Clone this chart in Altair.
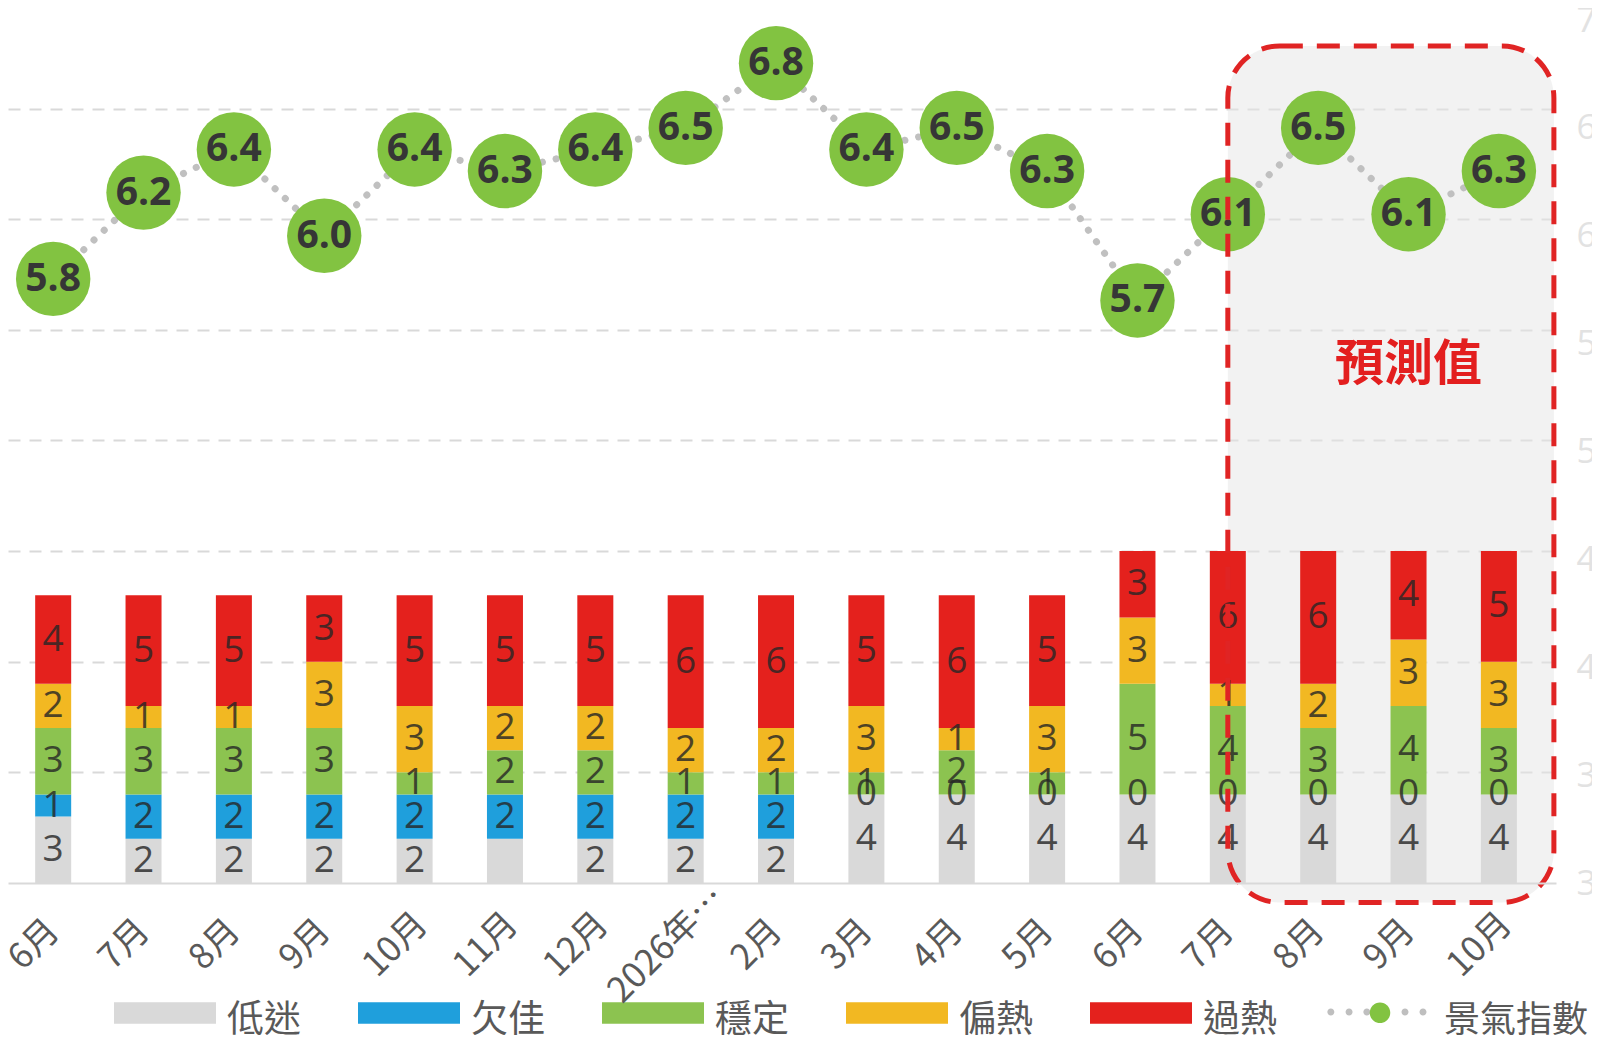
import altair as alt
import pandas as pd

# ---------------- data ----------------
month_keys = ["2025-06", "2025-07", "2025-08", "2025-09", "2025-10", "2025-11",
              "2025-12", "2026-01", "2026-02", "2026-03", "2026-04", "2026-05",
              "2026-06", "2026-07", "2026-08", "2026-09", "2026-10"]
month_labels = ["6月", "7月", "8月", "9月", "10月", "11月", "12月", "2026年1月",
                "2月", "3月", "4月", "5月", "6月", "7月", "8月", "9月", "10月"]

series_names = ["低迷", "欠佳", "穩定", "偏熱", "過熱"]
series_colors = ["#d9d9d9", "#1f9fdc", "#8cc350", "#f2b822", "#e4211d"]

low_values = [3, 2, 2, 2, 2, 2, 2, 2, 2, 4, 4, 4, 4, 4, 4, 4, 4]
poor_values = [1, 2, 2, 2, 2, 2, 2, 2, 2, 0, 0, 0, 0, 0, 0, 0, 0]
stable_values = [3, 3, 3, 3, 1, 2, 2, 1, 1, 1, 2, 1, 5, 4, 3, 4, 3]
warm_values = [2, 1, 1, 3, 3, 2, 2, 2, 2, 3, 1, 3, 3, 1, 2, 3, 3]
hot_values = [4, 5, 5, 3, 5, 5, 5, 6, 6, 5, 6, 5, 3, 6, 6, 4, 5]

index_name = "景氣指數"
index_values = [5.8, 6.2, 6.4, 6.0, 6.4, 6.3, 6.4, 6.5, 6.8, 6.4, 6.5, 6.3,
                5.7, 6.1, 6.5, 6.1, 6.3]

hidden_labels = [("2025-11", "低迷")]

forecast_start = "2026-07"
forecast_end = "2026-10"
forecast_top = 6.88
forecast_bottom = 2.91
forecast_text = "預測值"
forecast_text_key = "2026-09"
forecast_text_y = 5.40

# ---------------- tables ----------------
series_values = [low_values, poor_values, stable_values, warm_values, hot_values]
rows = []
for s_i, (name, vals) in enumerate(zip(series_names, series_values)):
    for k, v in zip(month_keys, vals):
        rows.append({"key": k, "series": name, "order": s_i, "value": v,
                     "show": (k, name) not in hidden_labels})
bars_df = pd.DataFrame(rows)

idx_df = pd.DataFrame({"key": month_keys, "index": index_values,
                       "legend": [index_name] * len(month_keys),
                       "legend_line": [index_name + "_line"] * len(month_keys)})
box_df = pd.DataFrame({"key": [forecast_start], "key_end": [forecast_end],
                       "top": [forecast_top], "bottom": [forecast_bottom]})
ftext_df = pd.DataFrame({"key": [forecast_text_key], "y": [forecast_text_y],
                         "text": [forecast_text]})

# ---------------- styling ----------------
CJK = "Noto Sans CJK TC"
NUM = "Open Sans"
W, H = 1548, 863
LEG_Y = 993  # legend symbol row centre, relative to plot top

keys_js = "[" + ",".join("'%s'" % k for k in month_keys) + "]"
labels_js = "[" + ",".join("'%s'" % l for l in month_labels) + "]"
label_expr = "%s[indexof(%s, datum.value)]" % (labels_js, keys_js)

x_scale = alt.Scale(domain=month_keys, paddingInner=0, paddingOuter=0.066, align=0)
x_axis = alt.Axis(title=None, labelExpr=label_expr, labelAngle=-45, labelAlign="center",
                  labelBaseline="middle", labelPadding=61, labelOffset=-19,
                  labelFont=CJK, labelFontSize=35,
                  labelColor="#595959", labelLimit=155, labelOverlap=False,
                  ticks=False, tickSize=0, domain=True, domainColor="#d9d9d9",
                  domainWidth=2, grid=False)
x_enc = alt.X("key:N", scale=x_scale, axis=x_axis)

count_scale = alt.Scale(domain=[0, 39], zero=False, nice=False)
idx_scale = alt.Scale(domain=[3, 7], zero=False, nice=False)

left_axis = alt.Axis(title=None, orient="left", values=[5, 10, 15, 20, 25, 30, 35],
                     grid=True, gridColor="#d9d9d9", gridDash=[12, 9], gridWidth=2,
                     labels=False, ticks=False, domain=False)
right_axis = alt.Axis(title=None, orient="right",
                      values=[3.0, 3.5, 4.0, 4.5, 5.0, 5.5, 6.0, 6.5, 7.0], format=".1f",
                      labelColor="#e2e2e2", labelFontSize=35, labelFont=NUM,
                      labelPadding=20, ticks=False, domain=False, grid=False,
                      labelFlush=False, labelOverlap=False)


def circle_path(cx, cy, r):
    return "M%.3f,%.3fA%.3f,%.3f 0 1,0 %.3f,%.3fA%.3f,%.3f 0 1,0 %.3f,%.3fZ" % (
        cx - r, cy, r, r, cx + r, cy, r, r, cx - r, cy)


dots_path = " ".join(circle_path(c, 0, 0.073)
                     for c in [-0.92, -0.54, -0.17, 0.625, 1.0])
legend_circle_path = circle_path(0, -0.8, 1.0)
legend_rect_path = "M-1,-0.367H1V0.053H-1Z"

# ---------------- forecast box fill ----------------
box_fill = alt.Chart(box_df).mark_rect(cornerRadius=52, fill="#e6e6e6", opacity=0.5,
                                       x2Offset=55).encode(
    x=alt.X("key:N", scale=x_scale, axis=x_axis, bandPosition=0.5),
    x2="key_end:N",
    y=alt.Y("top:Q", scale=idx_scale, axis=None),
    y2="bottom:Q",
)

# ---------------- stacked bars ----------------
stack_base = alt.Chart(bars_df).transform_stack(
    stack="value", groupby=["key"], as_=["v0", "v1"],
    sort=[alt.SortField("order", order="ascending")]
).transform_calculate(mid="(datum.v0 + datum.v1) / 2")

bars = stack_base.mark_bar(size=36).encode(
    x=x_enc,
    y=alt.Y("v0:Q", scale=count_scale, axis=left_axis),
    y2="v1:Q",
    color=alt.Color("series:N", scale=alt.Scale(domain=series_names, range=series_colors),
                    legend=alt.Legend(orient="none", legendX=106, legendY=LEG_Y - 51 + 8,
                                      direction="horizontal", columns=5, title=None,
                                      symbolType=legend_rect_path, symbolSize=10404,
                                      symbolStrokeWidth=0, labelFont=CJK, labelFontSize=37,
                                      labelColor="#595959", labelOffset=11,
                                      columnPadding=57, labelLimit=300)),
)

bar_text = stack_base.transform_filter("datum.show").mark_text(
    font=NUM, fontSize=37, color="#262626", opacity=0.8, baseline="middle", align="center"
).encode(
    x=x_enc,
    y=alt.Y("mid:Q", scale=count_scale, axis=left_axis),
    text="value:Q",
)

bar_group = alt.layer(bars, bar_text)

# ---------------- index line / points ----------------
y_idx = alt.Y("index:Q", scale=idx_scale, axis=right_axis)

line = alt.Chart(idx_df).mark_line(strokeWidth=7, strokeCap="round", color="#c0c0c0",
                                   strokeDash=[0.1, 14]).encode(x=x_enc, y=y_idx)

points = alt.Chart(idx_df).mark_circle(size=5540, opacity=1).encode(
    x=x_enc,
    y=y_idx,
    fill=alt.Fill("legend:N", scale=alt.Scale(domain=[index_name], range=["#82c341"]),
                  legend=alt.Legend(orient="none", legendX=1354, legendY=LEG_Y - 10,
                                    title=None, symbolType=legend_circle_path,
                                    symbolSize=420, symbolStrokeWidth=0,
                                    labelFont=CJK, labelFontSize=36, labelColor="#595959",
                                    labelOffset=46, labelLimit=300)),
)

dots_legend = alt.Chart(idx_df).transform_filter("false").mark_point(
    filled=True, color="#bfbfbf", opacity=1
).encode(
    x=x_enc,
    y=y_idx,
    shape=alt.Shape("legend_line:N",
                    scale=alt.Scale(domain=[index_name + "_line"], range=[dots_path]),
                    legend=alt.Legend(orient="none", legendX=1319, legendY=LEG_Y - 49,
                                      title=None, symbolSize=9216, symbolStrokeWidth=0,
                                      symbolFillColor="#bfbfbf", labelExpr="''")),
)

point_labels = alt.Chart(idx_df).mark_text(
    font=NUM, fontWeight="bold", fontSize=39, color="#363636", baseline="middle",
    align="center"
).encode(
    x=x_enc,
    y=y_idx,
    text=alt.Text("index:Q", format=".1f"),
)

box_border = alt.Chart(box_df).mark_rect(cornerRadius=52, fillOpacity=0, stroke="#e02424",
                                         strokeWidth=5, strokeDash=[23, 14],
                                         x2Offset=55).encode(
    x=alt.X("key:N", scale=x_scale, axis=x_axis, bandPosition=0.5),
    x2="key_end:N",
    y=alt.Y("top:Q", scale=idx_scale, axis=right_axis),
    y2="bottom:Q",
)

forecast_label = alt.Chart(ftext_df).mark_text(
    font=CJK, fontWeight="bold", fontSize=49, color="#e31f1f", baseline="middle",
    align="center"
).encode(
    x=x_enc,
    y=alt.Y("y:Q", scale=idx_scale, axis=right_axis),
    text="text:N",
)

idx_group = alt.layer(dots_legend, line, points, point_labels, box_border, forecast_label)

chart = alt.layer(box_fill, bar_group, idx_group).resolve_scale(
    y="independent"
).properties(
    width=W, height=H,
    padding={"left": 0, "top": 12, "right": 36, "bottom": 163},
    autosize=alt.AutoSizeParams(type="none"),
    background="white",
).configure_view(stroke=None)

chart.save("out.html", embed_options={"renderer": "svg", "actions": False})
